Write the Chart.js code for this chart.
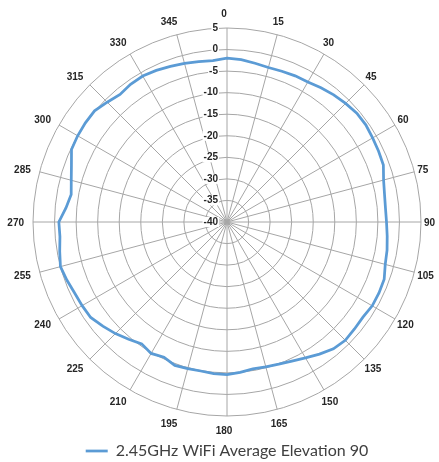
<!DOCTYPE html>
<html>
<head>
<meta charset="utf-8">
<script src="https://cdn.jsdelivr.net/npm/chart.js@4"></script>
<style>
  html, body { margin: 0; padding: 0; background: #ffffff; }
  #wrap { width: 439px; height: 462px; position: relative; }
</style>
</head>
<body>
<div id="wrap"><canvas id="c" width="439" height="462"></canvas></div>
<script>
// Angles (degrees) at which the pattern was sampled
const angles = [];
for (let a = 0; a < 360; a += 5) angles.push(String(a));

// Gain values (dB), one per 5 degrees
const gain = [
  -2.0, -2.2, -2.6, -2.9, -2.8, -2.6, -2.5, -2.0, -1.5, -1.1, -0.7, -0.7,   // 0..55
  -1.0, -1.2, -1.4, -2.4, -2.9, -3.1, -3.0, -2.7, -2.3, -2.0, -1.2, -1.1,   // 60..115
  -1.1, -1.5, -1.4, -1.2, -1.6, -2.6, -3.6, -4.4, -4.9, -5.2, -5.4, -5.0,   // 120..175
  -4.6, -4.7, -4.9, -4.8, -4.6, -5.4, -4.8, -5.5, -4.5, -3.4, -2.4, -1.4,   // 180..235
  -1.2, -1.0, -0.5, 0.0, -0.6, -1.1, -1.0, -2.5, -3.3, -2.6, -1.6, -0.2,    // 240..295
  0.0, 0.1, 0.1, -0.7, -1.4, -1.0, -0.9, -1.2, -1.6, -1.9, -2.2, -2.4       // 300..355
];

// Radial tick labels
const radialTicks = [-40, -35, -30, -25, -20, -15, -10, -5, 0, 5];
const seriesName = '2.45GHz WiFi Average Elevation 90';

const gridColor = '#a6a6a6';
const lineColor = '#5b9bd5';
const textColor = '#262626';
const smallFont = 'bold 10px "Liberation Sans", Arial, sans-serif';

// Draws radial tick labels and the angle labels (every 15 degrees)
const labelPlugin = {
  id: 'polarLabels',
  afterDatasetsDraw(chart) {
    const s = chart.scales.r;
    const ctx = chart.ctx;
    const R = s.drawingArea;
    ctx.save();
    ctx.font = smallFont;
    // radial tick labels along the 0-degree spoke
    ctx.textAlign = 'right';
    ctx.textBaseline = 'middle';
    radialTicks.forEach(v => {
      const y = s.yCenter - s.getDistanceFromCenterForValue(v);
      const txt = String(v);
      const w = ctx.measureText(txt).width;
      const x = s.xCenter - 9;
      ctx.fillStyle = '#ffffff';
      ctx.fillRect(x - w - 1, y - 5, w + 2, 10);
      ctx.fillStyle = textColor;
      ctx.fillText(txt, x, y);
    });
    // angle labels
    ctx.textAlign = 'center';
    ctx.fillStyle = textColor;
    angles.forEach((lab, i) => {
      if (i % 3 !== 0) return;
      const th = Number(lab) * Math.PI / 180;
      const sn = Math.sin(th), cs = Math.cos(th);
      const w = ctx.measureText(lab).width;
      const gap = 6 + 4.5 * cs * cs;
      const p = s.getPointPosition(i, R + gap);
      const x = p.x + sn * w / 2 - 3;
      const y = p.y - cs * 4 + 1;
      ctx.fillText(lab, x, y);
    });
    ctx.restore();
  }
};

new Chart(document.getElementById('c'), {
  type: 'radar',
  data: {
    labels: angles,
    datasets: [{
      label: seriesName,
      data: gain,
      borderColor: lineColor,
      backgroundColor: lineColor,
      borderWidth: 2.75,
      fill: false,
      pointRadius: 0,
      pointHoverRadius: 0,
      pointStyle: 'line',
      tension: 0
    }]
  },
  options: {
    responsive: false,
    animation: false,
    devicePixelRatio: 1,
    layout: { padding: { left: 33, right: 18, top: 1, bottom: -7 } },
    plugins: {
      legend: {
        position: 'bottom',
        labels: {
          usePointStyle: true,
          pointStyleWidth: 22,
          boxHeight: 10,
          color: '#404040',
          font: { family: 'Lato, "Open Sans", sans-serif', size: 16 },
          padding: 0
        }
      },
      tooltip: { enabled: false }
    },
    scales: {
      r: {
        min: -40,
        max: 5,
        startAngle: 0,
        ticks: { stepSize: 5, display: false },
        grid: { circular: true, color: gridColor, lineWidth: 1 },
        angleLines: {
          display: true,
          color: gridColor,
          lineWidth: (c) => (c.index % 3 === 0 ? 1 : 0)
        },
        pointLabels: { display: false }
      }
    }
  },
  plugins: [labelPlugin]
});
</script>
</body>
</html>
